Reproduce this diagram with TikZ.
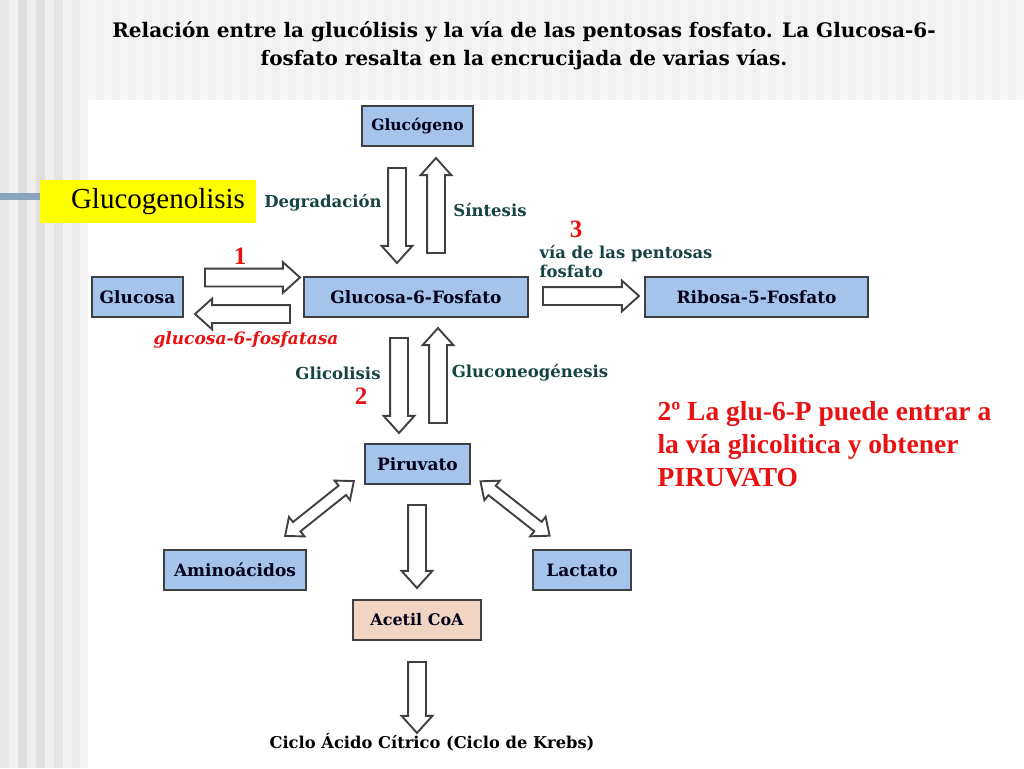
\documentclass[tikz,border=0pt]{standalone}
\usepackage{fontspec}
\setmainfont{DejaVu Serif}
\newfontfamily\timesf{Liberation Serif}
\usetikzlibrary{shapes.arrows}
\definecolor{boxblue}{RGB}{164,196,236}
\definecolor{boxpeach}{RGB}{240,212,196}
\definecolor{framegrey}{RGB}{64,64,64}
\definecolor{labteal}{RGB}{22,68,66}
\definecolor{numred}{RGB}{232,18,18}
\definecolor{barblue}{RGB}{138,164,192}
\definecolor{notegelb}{RGB}{255,255,0}
\tikzset{
	molbox/.style={draw=framegrey,line width=2.5pt,fill=boxblue,minimum height=40pt,inner sep=0pt,text=black!90!blue,font=\bfseries\fontsize{17}{19}\selectfont},
	fatarrow/.style={single arrow,draw=framegrey,line width=1.9pt,fill=white,inner sep=0pt,inner ysep=8pt,single arrow head extend=6.5pt,single arrow tip angle=84,minimum width=0pt},
	bothway/.style={double arrow,draw=framegrey,line width=1.9pt,fill=white,inner sep=0pt,inner ysep=5pt,double arrow head extend=6.5pt,double arrow tip angle=80,minimum width=0pt,minimum height=88pt},
	pathlab/.style={text=labteal,font=\bfseries\fontsize{16.5}{19}\selectfont},
	stepnum/.style={text=numred,font=\timesf\bfseries\fontsize{25}{26}\selectfont}
}
\begin{document}
\begin{tikzpicture}[x=1pt,y=-1pt]
				\useasboundingbox (0,0) rectangle (1024,768);
				\fill[white!94!black] (0,0) rectangle (1024,768);
				\foreach \x in {88,104,...,1016}
					\fill[white,opacity=.5] (\x,0) rectangle ++(8,100);
				\foreach \x/\g in {0/91,9/95,18/87,27/93,36/88,45/94,54/90,63/95,72/92,80/96}
					\fill[white!\g!black] (\x,0) rectangle ++(9,768);
				\fill[white] (88,100) rectangle (1024,768);
				\fill[barblue] (0,193) rectangle (42,200);
				\node[font=\bfseries\fontsize{20}{28}\selectfont,align=center] (title) at (524,46)
					{Relación entre la glucólisis y la vía de las pentosas fosfato. La Glucosa-6-\\fosfato resalta en la encrucijada de varias vías.};
				\node[fill=notegelb,minimum width=216pt,minimum height=43pt,inner xsep=11pt,text width=194pt,align=right,font=\timesf\fontsize{29}{30}\selectfont] (glgn) at (148,201.5) {Glucogenolisis};
				\node[molbox,minimum width=111pt,font=\bfseries\fontsize{15.5}{18}\selectfont] (glucogeno) at (417.5,126) {Glucógeno};
				\node[molbox,minimum width=224pt] (g6p) at (416,297) {Glucosa-6-Fosfato};
				\node[molbox,minimum width=91pt] (glucosa) at (137.5,297) {Glucosa};
				\node[molbox,minimum width=223pt] (r5p) at (756.5,297) {Ribosa-5-Fosfato};
				\node[molbox,minimum width=105pt] (piruvato) at (417.5,464) {Piruvato};
				\node[molbox,minimum width=142pt] (amino) at (235,570) {Aminoácidos};
				\node[molbox,minimum width=98pt] (lactato) at (582,570) {Lactato};
				\node[molbox,fill=boxpeach,minimum width=128pt,font=\bfseries\fontsize{16}{18}\selectfont] (acetil) at (417,620) {Acetil CoA};
				\node[font=\bfseries\fontsize{16.3}{18}\selectfont] (krebs) at (432,742) {Ciclo Ácido Cítrico (Ciclo de Krebs)};
				\node[fatarrow,minimum height=95pt,rotate=-90] (degr) at (397,210.5) {};
				\node[fatarrow,minimum height=95pt,rotate=90] (sint) at (436,210.5) {};
				\node[fatarrow,minimum height=95pt] (fosf) at (247.5,277.5) {};
				\node[fatarrow,minimum height=95pt,rotate=180] (fosfatasa) at (247.5,314) {};
				\node[fatarrow,minimum height=96pt] (pent) at (586,296) {};
				\node[fatarrow,minimum height=95pt,rotate=-90] (glic) at (399,380.5) {};
				\node[fatarrow,minimum height=95pt,rotate=90] (gneo) at (438,380.5) {};
				\node[fatarrow,minimum height=83pt,rotate=-90] (pdh) at (417,541.5) {};
				\node[fatarrow,minimum height=71pt,rotate=-90] (ciclo) at (417,692.5) {};
				\node[bothway,rotate=38.6] (transam) at (319.5,508.5) {};
				\node[bothway,rotate=-38.2] (ldh) at (515,508.5) {};
				\node[pathlab] (ldegr) at (323,203) {Degradación};
				\node[pathlab] (lsint) at (490,210) {Síntesis};
				\node[pathlab] (lglic) at (338,373) {Glicolisis};
				\node[pathlab] (lgneo) at (530,373) {Gluconeogénesis};
				\node[pathlab,anchor=west,align=left,font=\bfseries\fontsize{16.4}{19}\selectfont] (lpent) at (536,262) {vía de las pentosas\\fosfato};
				\node[text=numred,font=\bfseries\itshape\fontsize{17}{19}\selectfont] (lfosfatasa) at (246,340) {glucosa-6-fosfatasa};
				\node[stepnum] (n1) at (240,256) {1};
				\node[stepnum] (n2) at (361,396) {2};
				\node[stepnum] (n3) at (576,229) {3};
				\node[anchor=north west,align=left,text=numred,font=\timesf\bfseries\fontsize{27.5}{33}\selectfont] (nota) at (654,398)
					{2º La glu-6-P puede entrar a\\la vía glicolitica y obtener\\PIRUVATO};
			\end{tikzpicture}
\end{document}
